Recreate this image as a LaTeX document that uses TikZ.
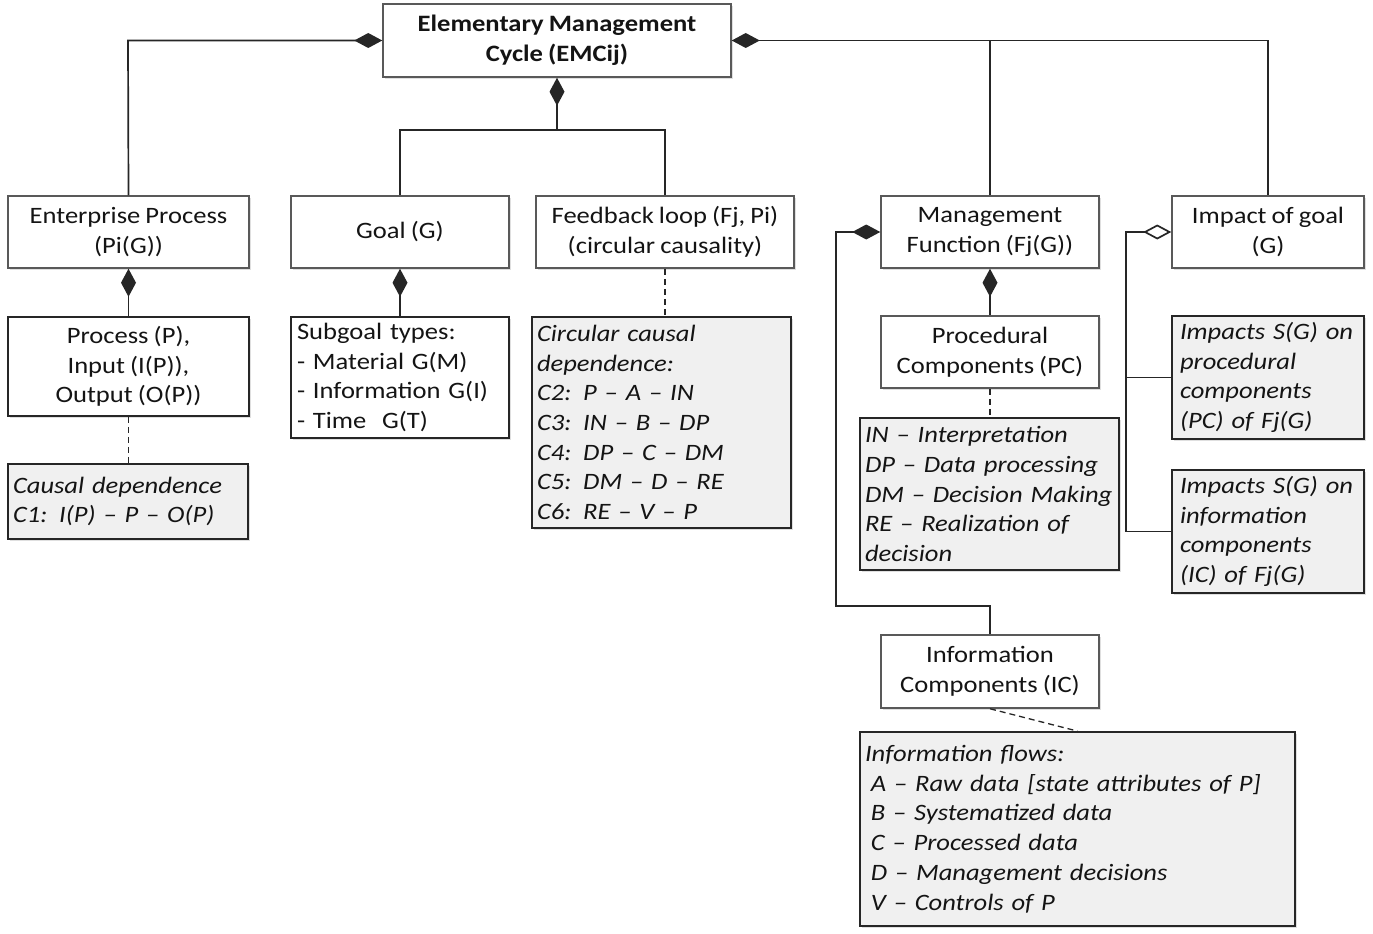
\documentclass[tikz,border=0pt]{standalone}
\usepackage{fontspec}
\setmainfont{Carlito}[FakeStretch=1.13, WordSpace=0.85]
\usetikzlibrary{arrows.meta,shadows}
\begin{document}
\begin{tikzpicture}[x=1pt,y=-1pt,
  every node/.style={font=\fontsize{23.5}{29.7}\selectfont, text=black!92},
  wbox/.style={draw=black!65, line width=1.5pt, fill=white, align=center, inner sep=0pt,
     drop shadow={shadow xshift=2pt, shadow yshift=-2pt, opacity=0.25}},
  dbox/.style={wbox, draw=black!85},
  gbox/.style={draw=black!85, line width=1.8pt, fill=black!6, align=left, inner xsep=5pt, inner ysep=0pt,
     font=\fontsize{23.5}{29.7}\selectfont\itshape,
     drop shadow={shadow xshift=2pt, shadow yshift=-2pt, opacity=0.25}},
  conn/.style={line width=1.7pt, black!85},
  dia/.style={conn, {Diamond[length=28pt,width=15pt]}-},
  odia/.style={conn, {Diamond[open,fill=white,length=28pt,width=15pt]}-},
  dsh/.style={conn, line width=1.3pt, dash pattern=on 6pt off 4pt}
]
\useasboundingbox (0,0) rectangle (1373,934);

% top level
\node[wbox, minimum width=348pt, minimum height=73pt, font=\fontsize{23.5}{29.7}\selectfont\bfseries] (emc) at (557,40.5) {Elementary Management\\Cycle (EMCij)};
\node[wbox, minimum width=241pt, minimum height=72pt] (ep) at (128.5,232) {Enterprise Process\\(Pi(G))};
\node[wbox, minimum width=218pt, minimum height=72pt] (goal) at (400,232) {Goal (G)};
\node[wbox, minimum width=258pt, minimum height=72pt] (fb) at (665,232) {Feedback loop (Fj, Pi)\\(circular causality)};
\node[wbox, minimum width=218pt, minimum height=72pt] (mf) at (990,232) {Management\\Function (Fj(G))};
\node[wbox, minimum width=192pt, minimum height=72pt] (iog) at (1268,232) {Impact of goal\\(G)};

% second level
\node[dbox, minimum width=241pt, minimum height=99pt] (proc) at (128.5,366.5) {Process (P),\\Input (I(P)),\\Output (O(P))};
\node[gbox, minimum width=240pt, minimum height=75pt, text width=230pt] (causal) at (128,501.5) {Causal dependence\\C1: I(P) – P – O(P)};
\node[dbox, minimum width=218pt, minimum height=121pt, text width=206pt, align=left, inner xsep=6pt] (sub) at (400,377.5) {Subgoal types:\\- Material G(M)\\- Information G(I)\\- Time\ \ G(T)};
\node[gbox, minimum width=259pt, minimum height=211pt, text width=249pt] (circ) at (661.5,422.5) {Circular causal\\dependence:\\C2: P – A – IN\\C3: IN – B – DP\\C4: DP – C – DM\\C5: DM – D – RE\\C6: RE – V – P};
\node[wbox, minimum width=218pt, minimum height=72pt] (pc) at (990,352) {Procedural\\Components (PC)};
\node[gbox, minimum width=259pt, minimum height=152pt, text width=249pt] (inb) at (989.5,494) {IN – Interpretation\\DP – Data processing\\DM – Decision Making\\RE – Realization of\\decision};
\node[gbox, minimum width=192pt, minimum height=123pt, text width=176pt, inner xsep=8pt] (ipc) at (1268,377.5) {Impacts S(G) on\\procedural\\components\\(PC) of Fj(G)};
\node[gbox, minimum width=192pt, minimum height=123pt, text width=176pt, inner xsep=8pt] (iic) at (1268,531.5) {Impacts S(G) on\\information\\components\\(IC) of Fj(G)};
\node[wbox, minimum width=218pt, minimum height=73pt] (ic) at (990,671.5) {Information\\Components (IC)};
\node[gbox, minimum width=435pt, minimum height=194pt, text width=425pt] (flows) at (1077.5,829) {Information flows:\\\hspace{0.25em}A – Raw data [state attributes of P]\\\hspace{0.25em}B – Systematized data\\\hspace{0.25em}C – Processed data\\\hspace{0.25em}D – Management decisions\\\hspace{0.25em}V – Controls of P};

% connectors
\coordinate (jl) at (128,40.5);
\draw[dia] (emc.west) -- (jl) -- (ep.north);
\draw[dia] (emc.east) -| (iog.north);
\draw[conn] (mf.north) -- (mf.north |- emc.east);
\coordinate (jb) at (557,130);
\draw[dia] (emc.south) -- (jb);
\draw[conn] (goal.north) |- (jb) -| (fb.north);
\draw[dia] (ep.south) -- (proc.north);
\draw[dia] (goal.south) -- (sub.north);
\draw[dsh] (fb.south) -- (fb.south |- circ.north);
\draw[dsh] (proc.south) -- (proc.south |- causal.north);
\draw[dia] (mf.south) -- (pc.north);
\draw[dsh] (pc.south) -- (pc.south |- inb.north);
\coordinate (cl) at (836,606);
\draw[dia] (mf.west) -| (cl) -| (ic.north);
\coordinate (cr) at (1126,531.5);
\draw[odia] (iog.west) -| (cr) -- (iic.west);
\draw[conn] (ipc.west) -- (ipc.west -| cr);
\draw[dsh] (ic.south) -- (flows.north);
\end{tikzpicture}
\end{document}
